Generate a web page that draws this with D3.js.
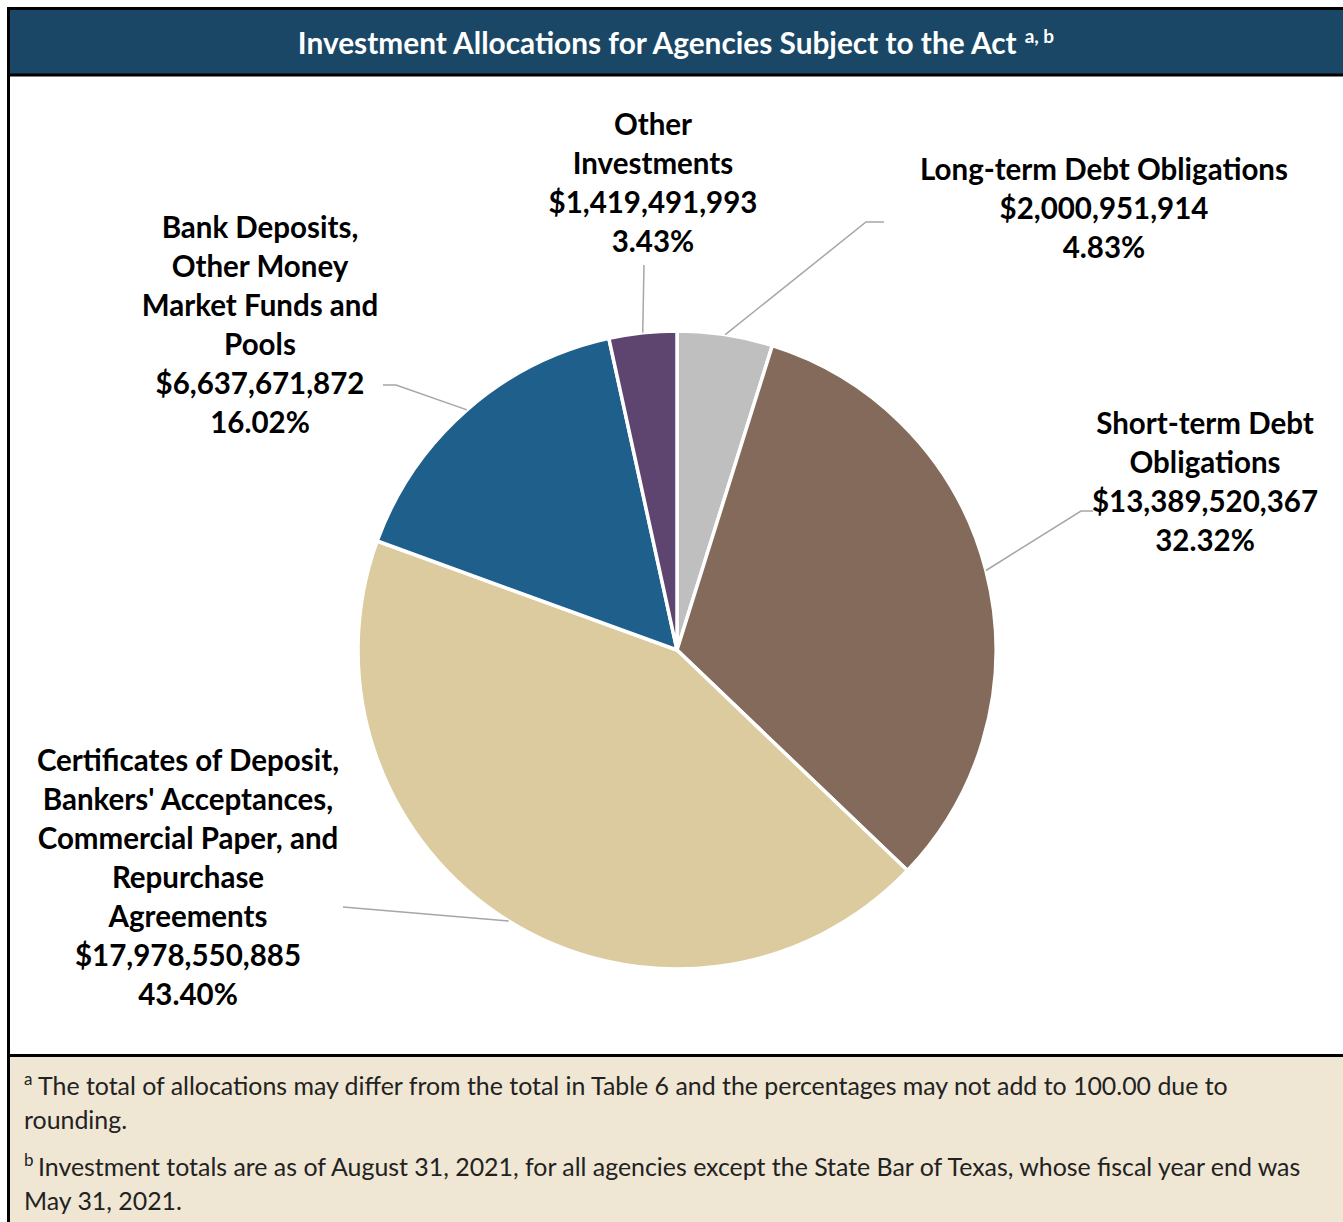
<!DOCTYPE html>
<html>
<head>
<meta charset="utf-8">
<script src="https://cdn.jsdelivr.net/npm/d3@7"></script>
<style>
  html, body { margin: 0; padding: 0; background: #fff; }
  svg { display: block; }
</style>
</head>
<body>
<svg id="chart" width="1343" height="1222"></svg>
<script>
// Allocation categories (line breaks mark where each label wraps)
const categories = [
  "Long-term Debt Obligations",
  "Short-term Debt\nObligations",
  "Certificates of Deposit,\nBankers' Acceptances,\nCommercial Paper, and\nRepurchase\nAgreements",
  "Bank Deposits,\nOther Money\nMarket Funds and\nPools",
  "Other\nInvestments"
];
// Dollar amounts per category
const amounts = [2000951914, 13389520367, 17978550885, 6637671872, 1419491993];
// Percent of total per category
const percents = [4.83, 32.32, 43.40, 16.02, 3.43];
// Slice colours
const colors = ["#bfbfbf", "#846a5a", "#dbcb9f", "#1f5f8b", "#5e456f"];

const titleText = "Investment Allocations for Agencies Subject to the Act";
const footnotes = [
  { mark: "a", lines: ["The total of allocations may differ from the total in Table 6 and the percentages may not add to 100.00 due to", "rounding."] },
  { mark: "b", lines: ["Investment totals are as of August 31, 2021, for all agencies except the State Bar of Texas, whose fiscal year end was", "May 31, 2021."] }
];

// Label layout: text centre x, first-line centre y, leader elbow and end
const labelLayout = [
  { x: 1104, y: 169, elbow: [866, 222], end: [884, 222] },
  { x: 1205, y: 423, elbow: [1081, 511], end: [1093, 511] },
  { x: 188,  y: 760, elbow: [343, 907], end: [343, 907] },
  { x: 260,  y: 227, elbow: [396, 385], end: [383, 385] },
  { x: 653,  y: 124, elbow: [644, 265], end: [644, 265] }
];

const W = 1343, H = 1222;
const svg = d3.select("#chart");
const font = "Lato, 'Open Sans', sans-serif";

// Frame: title bar, body, footnote panel
svg.append("rect").attr("x", 10).attr("y", 10).attr("width", W - 10).attr("height", 64).attr("fill", "#1a4766");
svg.append("rect").attr("x", 10).attr("y", 1057).attr("width", W - 10).attr("height", H - 1057).attr("fill", "#efe6d3");
svg.append("line").attr("x1", 7).attr("x2", W).attr("y1", 8.5).attr("y2", 8.5).attr("stroke", "#000").attr("stroke-width", 3);
svg.append("line").attr("x1", 7).attr("x2", W).attr("y1", 75).attr("y2", 75).attr("stroke", "#000").attr("stroke-width", 3);
svg.append("line").attr("x1", 7).attr("x2", W).attr("y1", 1055.5).attr("y2", 1055.5).attr("stroke", "#000").attr("stroke-width", 3);
svg.append("line").attr("x1", 8.5).attr("x2", 8.5).attr("y1", 7).attr("y2", H).attr("stroke", "#000").attr("stroke-width", 3);

// Title
const title = svg.append("text")
  .attr("x", 676).attr("y", 54)
  .attr("text-anchor", "middle")
  .attr("fill", "#fff")
  .attr("font-family", font).attr("font-weight", 700).attr("font-size", 29.8);
title.append("tspan").text(titleText);
title.append("tspan").attr("dx", 8).attr("dy", -11).attr("font-size", 19).text("a, b");

// Pie
const cx = 677, cy = 650, R = 319;
const pie = d3.pie().sort(null).value(d => d)(amounts);
const arc = d3.arc().innerRadius(0).outerRadius(R);
const g = svg.append("g").attr("transform", `translate(${cx},${cy})`);
g.selectAll("path").data(pie).join("path")
  .attr("d", arc)
  .attr("fill", (d, i) => colors[i])
  .attr("stroke", "#fff").attr("stroke-width", 3.5).attr("stroke-linejoin", "round");

// Leader lines from each slice's outer mid-point to its label
const fmtMoney = d3.format("$,");
pie.forEach((d, i) => {
  const a = (d.startAngle + d.endAngle) / 2;
  const px = cx + R * Math.sin(a), py = cy - R * Math.cos(a);
  const L = labelLayout[i];
  svg.append("path")
    .attr("d", d3.line()([[px, py], L.elbow, L.end]))
    .attr("fill", "none").attr("stroke", "#a6a6a6").attr("stroke-width", 1.5);
});

// Labels
const lineH = 39;
categories.forEach((name, i) => {
  const L = labelLayout[i];
  const lines = name.split("\n").concat([fmtMoney(amounts[i]), percents[i].toFixed(2) + "%"]);
  const t = svg.append("text")
    .attr("text-anchor", "middle")
    .attr("font-family", font).attr("font-weight", 700).attr("font-size", 29.5)
    .attr("fill", "#000");
  lines.forEach((ln, k) => {
    t.append("tspan").attr("x", L.x).attr("y", L.y + k * lineH + 10.5).text(ln);
  });
});

// Footnotes
const fnY = [1095, 1176];
footnotes.forEach((f, i) => {
  const y0 = fnY[i];
  svg.append("text").attr("x", 24).attr("y", y0 - 10)
    .attr("font-family", font).attr("font-size", 17).attr("fill", "#222").text(f.mark);
  f.lines.forEach((ln, k) => {
    svg.append("text")
      .attr("x", k === 0 ? 38 : 24).attr("y", y0 + k * 33.5)
      .attr("font-family", font).attr("font-size", 24.9).attr("fill", "#222")
      .text(ln);
  });
});
</script>
</body>
</html>
